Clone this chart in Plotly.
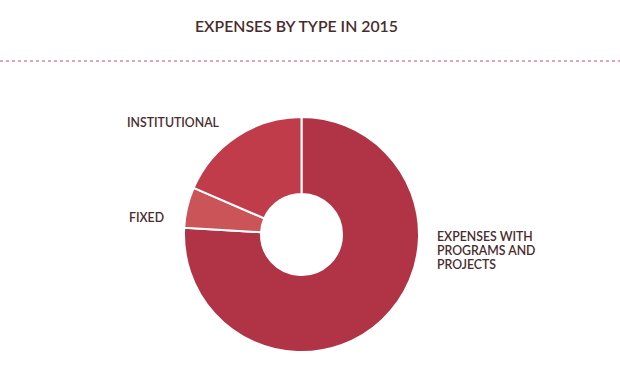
import plotly.graph_objects as go

categories = ["EXPENSES WITH PROGRAMS AND PROJECTS", "FIXED", "INSTITUTIONAL"]
values = [75.9, 5.6, 18.5]
colors = ["#B03446", "#CB5458", "#C03C4A"]
label_lines = [["EXPENSES WITH", "PROGRAMS AND", "PROJECTS"], ["FIXED"], ["INSTITUTIONAL"]]

W, H = 620, 369
cx, cy, r = 301.5, 234.5, 117.5

fig = go.Figure(go.Pie(
    labels=categories, values=values, sort=False, direction="clockwise", rotation=0,
    hole=0.345, textinfo="none", hoverinfo="label+percent",
    marker=dict(colors=colors, line=dict(color="white", width=2)),
    domain=dict(x=[(cx - r) / W, (cx + r) / W], y=[(H - cy - r) / H, (H - cy + r) / H]),
    showlegend=False,
))

txtc = "#4A2C2E"
fig.add_annotation(x=296.5 / W, y=1 - 26 / H, xref="paper", yref="paper", text="EXPENSES BY TYPE IN 2015",
                   showarrow=False, font=dict(family="Lato", size=15.8, color=txtc, weight=600),
                   xanchor="center", yanchor="middle")
pos = [(435, 236), (127, 217), (125, 123)]
for (x, y), lines in zip(pos, label_lines):
    for i, t in enumerate(lines):
        fig.add_annotation(x=x / W, y=1 - (y + 14 * i) / H, xref="paper", yref="paper", text=t,
                           showarrow=False, xanchor="left", yanchor="middle",
                           font=dict(family="Lato", size=12.3, color=txtc, weight=600))

fig.add_shape(type="line", xref="paper", yref="paper", x0=0, x1=1, y0=1 - 61 / H, y1=1 - 61 / H,
              line=dict(color="#D48A9C", width=1.5, dash="dot"))

fig.update_layout(width=W, height=H, margin=dict(l=0, r=0, t=0, b=0),
                  paper_bgcolor="white", plot_bgcolor="white")
fig.write_html("out.html")
